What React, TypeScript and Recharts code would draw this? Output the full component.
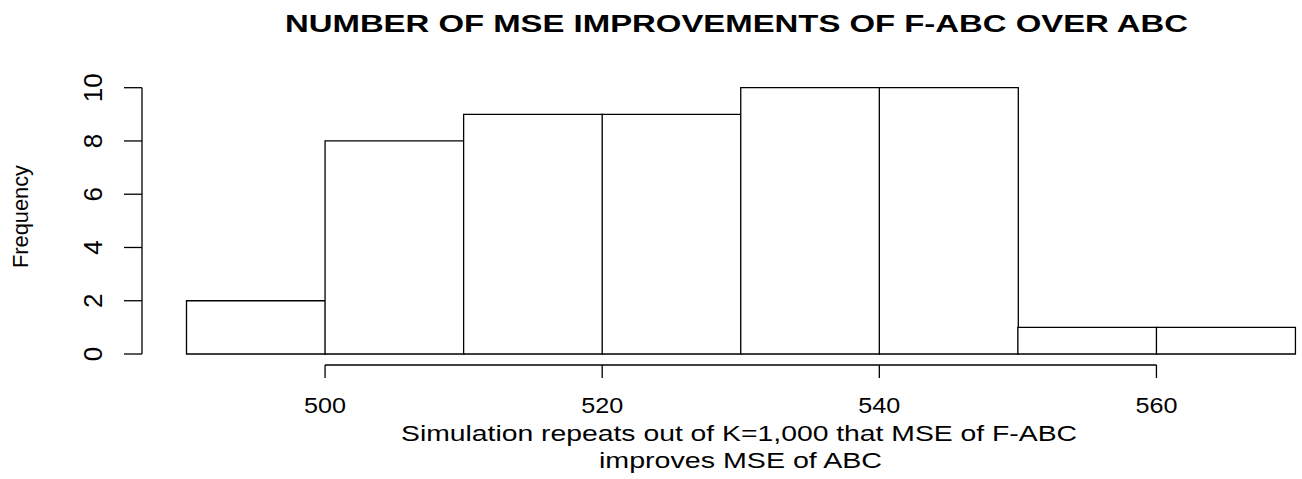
import React from 'react';
import { BarChart, Bar, XAxis, YAxis } from 'recharts';

// histogram bins (midpoints) and counts
const binMids = [495, 505, 515, 525, 535, 545, 555, 565];
const binCounts = [2, 8, 9, 9, 10, 10, 1, 1];
const xTicks = [500, 520, 540, 560];
const yTicks = [0, 2, 4, 6, 8, 10];

const data = binMids.map((mid, i) => ({ mid, count: binCounts[i] }));

const W = 1302;
const H = 479;
const PLOT_LEFT = 186.5;
const PLOT_RIGHT = 1295;
const PLOT_TOP = 87.7;
const PLOT_BOTTOM = 354;
const X_MIN = 490;
const X_MAX = 570;
const Y_AXIS_W = 60;
const X_AXIS_H = 60;
const LINE_W = 1.3;
const pxPerUnit = (PLOT_RIGHT - PLOT_LEFT) / (X_MAX - X_MIN);

const FONT = '"Liberation Sans", Arial, Helvetica, sans-serif';

const XTick = (props: any) => {
  const { x, payload, index } = props;
  const axisY = 365;
  return (
    <g>
      {index === 0 && (
        <line
          x1={x}
          x2={x + (xTicks[xTicks.length - 1] - xTicks[0]) * pxPerUnit}
          y1={axisY}
          y2={axisY}
          stroke="#000"
          strokeWidth={LINE_W}
        />
      )}
      <line x1={x} x2={x} y1={axisY} y2={378} stroke="#000" strokeWidth={LINE_W} />
      <text
        x={x}
        y={413}
        textAnchor="middle"
        fontFamily={FONT}
        fontSize={22.3}
        textLength={42}
        lengthAdjust="spacingAndGlyphs"
        fill="#000"
      >
        {payload.value}
      </text>
    </g>
  );
};

const YTick = (props: any) => {
  const { y, payload } = props;
  const axisX = 142;
  const lx = 101.7;
  return (
    <g>
      {payload.value === 0 && (
        <line
          x1={axisX}
          x2={axisX}
          y1={y}
          y2={y - (PLOT_BOTTOM - PLOT_TOP)}
          stroke="#000"
          strokeWidth={LINE_W}
        />
      )}
      <line x1={124} x2={axisX} y1={y} y2={y} stroke="#000" strokeWidth={LINE_W} />
      <text
        x={lx}
        y={y}
        textAnchor="middle"
        transform={`rotate(-90, ${lx}, ${y})`}
        fontFamily={FONT}
        fontSize={26}
        fill="#000"
      >
        {payload.value}
      </text>
    </g>
  );
};

const App = () => {
  return (
    <div style={{ position: 'absolute', left: 0, top: 0, width: W, height: H, background: '#fff' }}>
      <BarChart
        width={W}
        height={H}
        data={data}
        barCategoryGap={0}
        margin={{
          top: PLOT_TOP,
          right: W - PLOT_RIGHT,
          bottom: H - PLOT_BOTTOM - X_AXIS_H,
          left: PLOT_LEFT - Y_AXIS_W,
        }}
      >
        <XAxis
          dataKey="mid"
          type="number"
          domain={[X_MIN, X_MAX]}
          ticks={xTicks}
          height={X_AXIS_H}
          axisLine={false}
          tickLine={false}
          tick={<XTick />}
          interval={0}
        />
        <YAxis
          type="number"
          domain={[0, 10]}
          ticks={yTicks}
          width={Y_AXIS_W}
          axisLine={false}
          tickLine={false}
          tick={<YTick />}
          interval={0}
        />
        <Bar dataKey="count" fill="#fff" stroke="#000" strokeWidth={LINE_W} isAnimationActive={false} />
      </BarChart>
      <svg
        width={W}
        height={H}
        style={{ position: 'absolute', left: 0, top: 0, pointerEvents: 'none' }}
      >
        <text
          x={736.5}
          y={32}
          textAnchor="middle"
          fontFamily={FONT}
          fontWeight="bold"
          fontSize={23}
          textLength={903}
          lengthAdjust="spacingAndGlyphs"
          fill="#000"
        >
          NUMBER OF MSE IMPROVEMENTS OF F-ABC OVER ABC
        </text>
        <text
          x={739}
          y={441}
          textAnchor="middle"
          fontFamily={FONT}
          fontSize={22}
          textLength={676}
          lengthAdjust="spacingAndGlyphs"
          fill="#000"
        >
          Simulation repeats out of K=1,000 that MSE of F-ABC
        </text>
        <text
          x={740.5}
          y={468}
          textAnchor="middle"
          fontFamily={FONT}
          fontSize={22}
          textLength={283}
          lengthAdjust="spacingAndGlyphs"
          fill="#000"
        >
          improves MSE of ABC
        </text>
        <text
          x={27.5}
          y={216.5}
          textAnchor="middle"
          transform="rotate(-90, 27.5, 216.5)"
          fontFamily={FONT}
          fontSize={22}
          textLength={103}
          lengthAdjust="spacingAndGlyphs"
          fill="#000"
        >
          Frequency
        </text>
      </svg>
    </div>
  );
};

export default App;
